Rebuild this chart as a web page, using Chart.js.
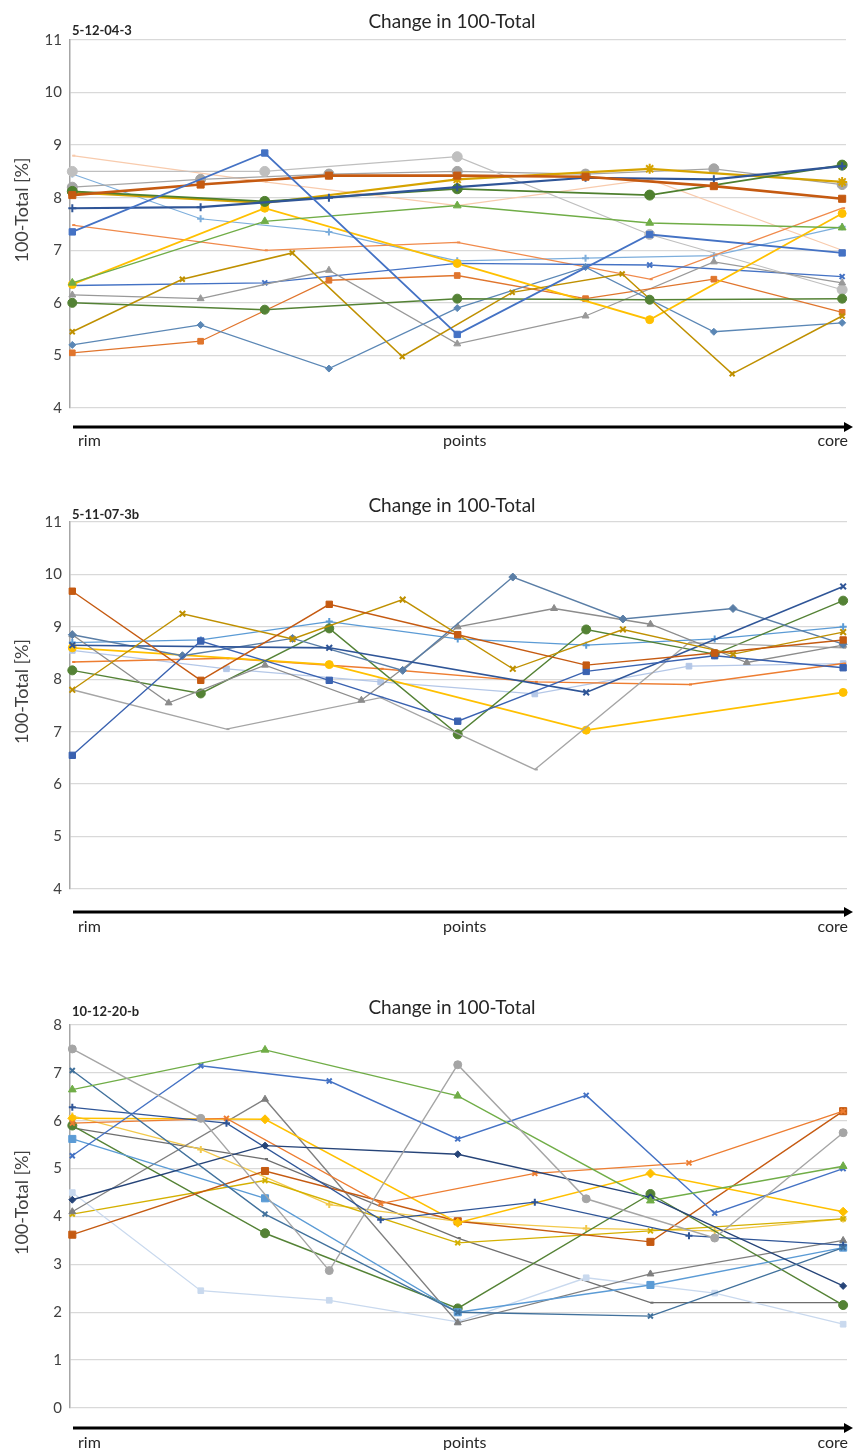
<!DOCTYPE html>
<html>
<head>
<meta charset="utf-8">
<script src="https://cdn.jsdelivr.net/npm/chart.js@4.4.1/dist/chart.umd.min.js"></script>
<style>
  html, body { margin: 0; padding: 0; background: #fff; }
  body { position: relative; width: 853px; height: 1450px; overflow: hidden; }
  canvas { position: absolute; left: 0; }
</style>
</head>
<body>
<canvas id="chart1" width="853" height="460" style="top:0px"></canvas>
<canvas id="chart2" width="853" height="470" style="top:470px"></canvas>
<canvas id="chart3" width="853" height="490" style="top:960px"></canvas>
<script>
  // profile ends along the traverse
  var profileLabels = ['rim', 'points', 'core'];
  var chartTitle = 'Change in 100-Total';
  var yAxisTitle = '100-Total [%]';
  var sampleNames = ['5-12-04-3', '5-11-07-3b', '10-12-20-b'];

  // 5-12-04-3 : one array per traverse, rim first, core last (100-Total, %)
  var sample1Values = [
    [7.35, 8.85, 5.4, 7.3, 6.95],
    [8.05, 8.25, 8.42, 8.42, 8.4, 8.22, 7.98],
    [7.8, 7.82, 8.0, 8.2, 8.38, 8.35, 8.6],
    [6.0, 5.87, 6.08, 6.06, 6.08],
    [8.12, 7.93, 8.17, 8.05, 8.62],
    [6.38, 7.55, 7.85, 7.52, 7.43],
    [5.45, 6.45, 6.95, 4.98, 6.2, 6.55, 4.65, 5.75],
    [6.35, 7.8, 6.75, 5.68, 7.7],
    [8.1, 7.9, 8.35, 8.55, 8.3],
    [5.2, 5.58, 4.75, 5.9, 6.68, 5.45, 5.62],
    [5.05, 5.27, 6.43, 6.52, 6.08, 6.45, 5.82],
    [6.15, 6.08, 6.62, 5.22, 5.75, 6.78, 6.38],
    [6.33, 6.38, 6.75, 6.72, 6.5],
    [7.48, 7.0, 7.15, 6.45, 7.8],
    [8.5, 8.5, 8.78, 7.3, 6.25],
    [8.2, 8.35, 8.45, 8.5, 8.45, 8.55, 8.25],
    [8.45, 7.6, 7.35, 6.8, 6.85, 6.9, 7.45],
    [8.8, 8.3, 7.85, 8.35, 7.0]
  ];

  // 5-11-07-3b
  var sample2Values = [
    [9.68, 7.98, 9.43, 8.85, 8.27, 8.5, 8.75],
    [7.8, 9.25, 8.77, 9.52, 8.2, 8.95, 8.48, 8.9],
    [6.55, 8.73, 7.98, 7.2, 8.15, 8.45, 8.22],
    [8.65, 8.6, 7.75, 9.77],
    [8.85, 8.45, 8.78, 8.17, 9.95, 9.15, 9.35, 8.67],
    [8.85, 7.55, 8.27, 7.6, 9.0, 9.35, 9.05, 8.32, 8.65],
    [7.8, 7.05, 7.65, 6.28, 8.7, 8.6],
    [8.17, 7.73, 8.97, 6.95, 8.95, 8.48, 9.5],
    [8.6, 8.28, 7.03, 7.75],
    [8.7, 8.75, 9.1, 8.77, 8.65, 8.77, 9.0],
    [8.33, 8.4, 8.2, 7.95, 7.9, 8.3],
    [8.55, 8.2, 7.95, 7.72, 8.25, 8.3]
  ];

  // 10-12-20-b
  var sample3Values = [
    [7.5, 6.05, 2.87, 7.17, 4.37, 3.55, 5.75],
    [6.65, 7.48, 6.52, 4.33, 5.05],
    [5.27, 7.15, 6.83, 5.62, 6.53, 4.07, 5.0],
    [7.05, 4.05, 2.0, 1.92, 3.35],
    [4.35, 5.48, 5.3, 4.4, 2.55],
    [6.28, 5.95, 3.93, 4.3, 3.6, 3.4],
    [5.95, 6.05, 4.27, 4.9, 5.12, 6.2],
    [6.05, 6.03, 3.87, 4.9, 4.1],
    [3.62, 4.95, 3.9, 3.47, 6.2],
    [5.62, 4.38, 2.0, 2.57, 3.35],
    [5.9, 3.65, 2.08, 4.47, 2.15],
    [4.1, 6.45, 1.78, 2.8, 3.5],
    [4.5, 2.45, 2.25, 1.8, 2.72, 2.4, 1.75],
    [4.05, 4.75, 3.45, 3.7, 3.95],
    [6.1, 5.4, 4.25, 3.9, 3.75, 3.7, 3.95],
    [5.85, 5.2, 3.55, 2.2, 2.2]
  ];

  var yRanges = [[4, 11], [4, 11], [0, 8]];

  // line colour, marker, marker radius, line width
  var sample1Styles = [
    ['#4472C4', 'rect', 4.5, 1.8], ['#C55A11', 'rect', 5, 2.6], ['#2F5597', 'cross', 4, 2.2],
    ['#548235', 'circle', 4.5, 1.5], ['#4E7F2E', 'circle', 5, 1.8], ['#70AD47', 'triangle', 4.5, 1.5],
    ['#BF9000', 'crossRot', 3.5, 1.5], ['#FFC000', 'circle', 4, 1.8], ['#D6A300', 'star', 5, 2.2],
    ['#5B87B5', 'rectRot', 3.5, 1.3], ['#E0752D', 'rect', 4, 1.3], ['#999999', 'triangle', 4, 1.3],
    ['#4472C4', 'crossRot', 3.5, 1.3], ['#F08A4B', 'dash', 3, 1.3], ['#BFBFBF', 'circle', 5, 1.2],
    ['#A5A5A5', 'circle', 5, 1.2], ['#7DAEDC', 'cross', 3.5, 1.2], ['#F8CBAD', 'dash', 3, 1.2]
  ];
  var sample2Styles = [
    ['#C55A11', 'rect', 4.5, 1.4], ['#BF9000', 'crossRot', 4, 1.4], ['#3A62B0', 'rect', 4.5, 1.4],
    ['#2F5597', 'crossRot', 4, 1.6], ['#5A7EA6', 'rectRot', 4, 1.4], ['#8C8C8C', 'triangle', 4, 1.3],
    ['#A5A5A5', 'dash', 3, 1.4], ['#548235', 'circle', 4.5, 1.4], ['#FFC000', 'circle', 4, 1.8],
    ['#5B9BD5', 'cross', 3.5, 1.3], ['#ED7D31', 'dash', 3, 1.4], ['#B4C7E7', 'rect', 4, 1.3]
  ];
  var sample3Styles = [
    ['#A5A5A5', 'circle', 4, 1.4], ['#70AD47', 'triangle', 4.5, 1.4], ['#4472C4', 'crossRot', 3.5, 1.4],
    ['#41719C', 'crossRot', 3.5, 1.4], ['#264478', 'rectRot', 3.5, 1.4], ['#2F5597', 'cross', 3.5, 1.3],
    ['#ED7D31', 'crossRot', 3.5, 1.4], ['#FFC000', 'rectRot', 4.5, 1.5], ['#C55A11', 'rect', 5, 1.4],
    ['#5B9BD5', 'rect', 5, 1.4], ['#548235', 'circle', 4.5, 1.4], ['#7F7F7F', 'triangle', 4, 1.3],
    ['#C9D9EE', 'rect', 4, 1.3], ['#D4B000', 'crossRot', 3.5, 1.4], ['#F2C94C', 'cross', 3.5, 1.3],
    ['#6E6E6E', 'dash', 3, 1.3]
  ];

  // title, sample label, arrow and rim/points/core captions
  var profileDecor = {
    id: 'profileDecor',
    afterDraw: function(chart, args, opts) {
      var ctx = chart.ctx;
      var area = chart.chartArea;
      var w = chart.width;
      ctx.save();
      ctx.fillStyle = '#262626';
      ctx.textBaseline = 'middle';

      ctx.font = '19px Lato';
      ctx.textAlign = 'center';
      ctx.fillText(chartTitle, 452, opts.titleY);

      ctx.font = 'bold 13px Lato';
      ctx.textAlign = 'left';
      ctx.fillText(opts.sample, area.left + 2, opts.sampleY);

      ctx.fillStyle = '#404040';
      ctx.font = '18px Lato';
      ctx.translate(22, (area.top + area.bottom) / 2 - 14);
      ctx.rotate(-Math.PI / 2);
      ctx.textAlign = 'center';
      ctx.fillText(yAxisTitle, 0, 0);
      ctx.setTransform(1, 0, 0, 1, 0, 0);

      var ay = opts.arrowY;
      ctx.strokeStyle = '#000';
      ctx.lineWidth = 3;
      ctx.beginPath();
      ctx.moveTo(area.left + 3, ay);
      ctx.lineTo(w - 7, ay);
      ctx.stroke();
      ctx.fillStyle = '#000';
      ctx.beginPath();
      ctx.moveTo(w, ay);
      ctx.lineTo(w - 9, ay - 5);
      ctx.lineTo(w - 9, ay + 5);
      ctx.closePath();
      ctx.fill();

      ctx.fillStyle = '#262626';
      ctx.font = '16px Lato';
      ctx.textAlign = 'left';
      ctx.fillText(profileLabels[0], 78, opts.labelY);
      ctx.fillText(profileLabels[1], 443, opts.labelY);
      ctx.textAlign = 'right';
      ctx.fillText(profileLabels[2], 848, opts.labelY);
      ctx.restore();
    }
  };

  function buildDatasets(values, styles) {
    return values.map(function(vals, k) {
      var st = styles[k];
      return {
        // points of a traverse are spread evenly from rim (0) to core (1)
        data: vals.map(function(v, i) { return { x: i / (vals.length - 1), y: v }; }),
        borderColor: st[0],
        backgroundColor: st[0],
        pointStyle: st[1],
        pointRadius: st[2],
        pointBorderWidth: st[1] === 'cross' || st[1] === 'crossRot' || st[1] === 'star' || st[1] === 'dash' ? 2 : 1,
        borderWidth: st[3],
        tension: 0,
        clip: false
      };
    });
  }

  function makeChart(id, idx, values, styles, layout) {
    var ctx = document.getElementById(id).getContext('2d');
    return new Chart(ctx, {
      type: 'line',
      data: { datasets: buildDatasets(values, styles) },
      options: {
        responsive: false,
        animation: false,
        devicePixelRatio: 1,
        layout: { padding: { top: layout.top, bottom: layout.bottom, left: 0, right: 6 } },
        plugins: {
          legend: { display: false },
          tooltip: { enabled: false },
          profileDecor: {
            sample: sampleNames[idx],
            titleY: layout.titleY,
            sampleY: layout.sampleY,
            arrowY: layout.arrowY,
            labelY: layout.labelY
          }
        },
        scales: {
          x: { type: 'linear', min: -0.003, max: 1.005, display: false },
          y: {
            min: yRanges[idx][0],
            max: yRanges[idx][1],
            afterFit: function(scale) { scale.width = 70; },
            ticks: { stepSize: 1, padding: 8, color: '#404040', font: { family: 'Lato', size: 15 } },
            grid: { color: '#d9d9d9', lineWidth: 1.3, drawTicks: false },
            border: { color: '#a6a6a6', width: 1.5 }
          }
        }
      },
      plugins: [profileDecor]
    });
  }

  makeChart('chart1', 0, sample1Values, sample1Styles,
    { top: 40, bottom: 52, titleY: 22, sampleY: 31, arrowY: 427, labelY: 441 });
  makeChart('chart2', 1, sample2Values, sample2Styles,
    { top: 52, bottom: 51, titleY: 36, sampleY: 45, arrowY: 442, labelY: 457 });
  makeChart('chart3', 2, sample3Values, sample3Styles,
    { top: 65, bottom: 42, titleY: 48, sampleY: 52, arrowY: 468, labelY: 483 });
</script>
</body>
</html>
